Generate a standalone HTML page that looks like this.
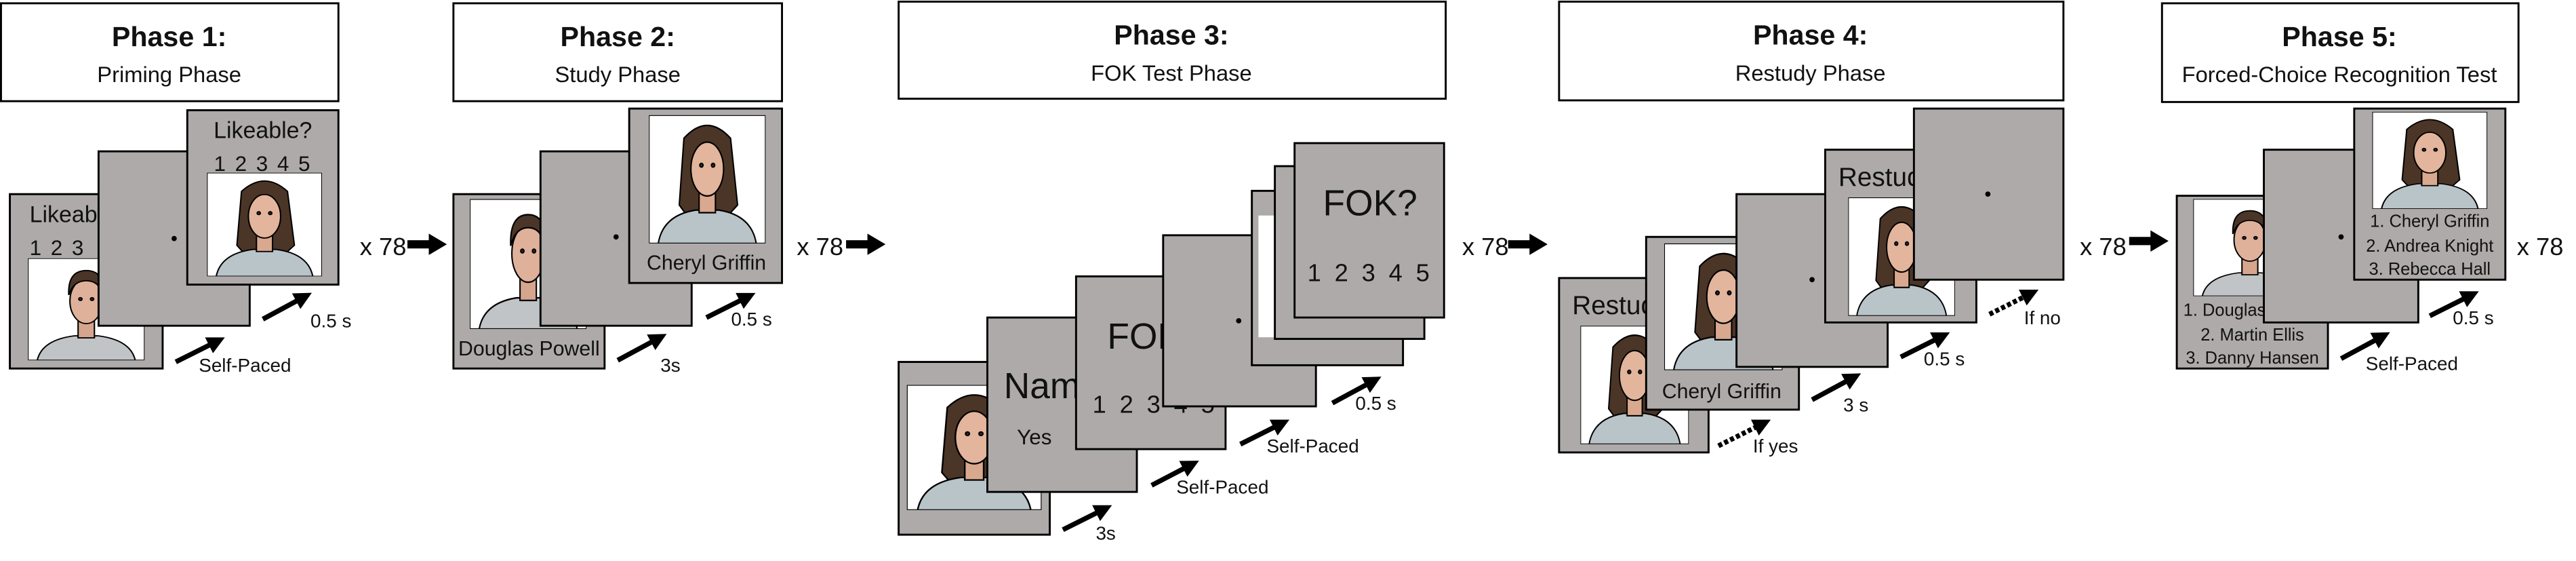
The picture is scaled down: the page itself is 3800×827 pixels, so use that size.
<!DOCTYPE html>
<html><head><meta charset="utf-8"><style>
html,body{margin:0;padding:0;background:#fff;}
svg{display:block;}
text{font-family:"Liberation Sans Narrow","Liberation Sans",sans-serif;fill:#111;}
</style></head><body>
<svg width="3800" height="827" viewBox="0 0 1568 341" preserveAspectRatio="none" xmlns="http://www.w3.org/2000/svg">
<defs>
<symbol id="fem" viewBox="0 0 100 100" preserveAspectRatio="none">
<rect width="100" height="100" fill="#fff"/>
<path d="M30 18 Q50 -2 70 18 L76 70 L66 80 L34 80 L26 70 Z" fill="#4b3527"/>
<path d="M8 100 Q12 78 40 74 L60 74 Q88 78 92 100 Z" fill="#b9c4c9"/>
<rect x="43" y="58" width="14" height="18" fill="#d9a98f"/>
<ellipse cx="50" cy="42" rx="14" ry="21" fill="#e2b59c"/>
<circle cx="45" cy="39" r="1.4" fill="#333"/><circle cx="55" cy="39" r="1.4" fill="#333"/>
</symbol>
<symbol id="mal" viewBox="0 0 100 100" preserveAspectRatio="none">
<rect width="100" height="100" fill="#fff"/>
<path d="M8 100 Q12 80 40 76 L60 76 Q88 80 92 100 Z" fill="#c0c4c6"/>
<rect x="43" y="58" width="14" height="20" fill="#d6a58e"/>
<ellipse cx="50" cy="42" rx="14" ry="22" fill="#dfb09a"/>
<path d="M35 36 Q34 12 50 12 Q66 12 65 36 Q61 22 50 22 Q39 22 35 36Z" fill="#4a3528"/>
<circle cx="45" cy="40" r="1.4" fill="#333"/><circle cx="55" cy="40" r="1.4" fill="#333"/>
</symbol>
<marker id="ah" viewBox="0 0 10 10" refX="6" refY="5" markerWidth="3.6" markerHeight="3.6" orient="auto"><path d="M0 0 L10 5 L0 10 Z" fill="#000"/></marker>
</defs>
<g fill="#fff" stroke="#000" stroke-width="1.2">
<rect x="0.6" y="2" width="205.4" height="59.5"/>
<rect x="276" y="2" width="200" height="59.5"/>
<rect x="547" y="1" width="333" height="59"/>
<rect x="949" y="1" width="307" height="60"/>
<rect x="1316" y="2" width="217" height="60"/>
</g>
<g font-size="17" font-weight="bold" text-anchor="middle">
<text x="103" y="28">Phase 1:</text><text x="376" y="28">Phase 2:</text><text x="713" y="27">Phase 3:</text><text x="1102" y="27">Phase 4:</text><text x="1424" y="28">Phase 5:</text>
</g>
<g font-size="13.5" text-anchor="middle">
<text x="103" y="50">Priming Phase</text><text x="376" y="50">Study Phase</text><text x="713" y="49">FOK Test Phase</text><text x="1102" y="49">Restudy Phase</text><text x="1424" y="50">Forced-Choice Recognition Test</text>
</g>
<g stroke="#000" stroke-width="1.2">
<!-- Phase 1 -->
<rect x="6" y="118" width="93" height="106" fill="#aeaaaa"/>
<text x="18" y="135" font-size="14" stroke="none">Likeable?</text>
<text x="18" y="155" font-size="13" stroke="none" letter-spacing="1">1 2 3</text>
<use href="#mal" x="17" y="157" width="71" height="62"/>
<rect x="60" y="92" width="92" height="106" fill="#aeaaaa"/>
<circle cx="106" cy="145" r="1.6" fill="#000" stroke="none"/>
<rect x="114" y="67" width="92" height="106" fill="#aeaaaa"/>
<text x="160" y="84" font-size="14" text-anchor="middle" stroke="none">Likeable?</text>
<text x="160" y="104" font-size="13" text-anchor="middle" stroke="none" letter-spacing="1">1 2 3 4 5</text>
<use href="#fem" x="126" y="105" width="70" height="63"/>
<!-- Phase 2 -->
<rect x="276" y="118" width="92" height="106" fill="#aeaaaa"/>
<use href="#mal" x="286" y="121" width="71" height="79"/>
<text x="322" y="216" font-size="12.5" text-anchor="middle" stroke="none">Douglas Powell</text>
<rect x="329" y="92" width="92" height="106" fill="#aeaaaa"/>
<circle cx="375" cy="144" r="1.6" fill="#000" stroke="none"/>
<rect x="383" y="66" width="93" height="106" fill="#aeaaaa"/>
<use href="#fem" x="395" y="70" width="71" height="78"/>
<text x="430" y="164" font-size="12.5" text-anchor="middle" stroke="none">Cheryl Griffin</text>
<!-- Phase 3 -->
<rect x="547" y="220" width="92" height="105" fill="#aeaaaa"/>
<use href="#fem" x="552" y="234" width="82" height="76"/>
<rect x="601" y="193" width="91" height="106" fill="#aeaaaa"/>
<text x="611" y="242" font-size="22" stroke="none">Name?</text>
<text x="619" y="270" font-size="13" stroke="none">Yes</text>
<rect x="655" y="168" width="91" height="105" fill="#aeaaaa"/>
<text x="674" y="212" font-size="22" stroke="none">FOK?</text>
<text x="665" y="251" font-size="15" stroke="none" letter-spacing="2">1 2 3 4 5</text>
<rect x="708" y="143" width="93" height="104" fill="#aeaaaa"/>
<circle cx="754" cy="195" r="1.6" fill="#000" stroke="none"/>
<rect x="762" y="116" width="92" height="106" fill="#aeaaaa"/>
<rect x="766" y="131" width="10" height="74" fill="#fff" stroke="none"/>
<rect x="776" y="101" width="91" height="105" fill="#aeaaaa"/>
<rect x="788" y="87" width="91" height="106" fill="#aeaaaa"/>
<text x="834" y="131" font-size="22" text-anchor="middle" stroke="none">FOK?</text>
<text x="834" y="171" font-size="15" text-anchor="middle" stroke="none" letter-spacing="2">1 2 3 4 5</text>
<!-- Phase 4 -->
<rect x="949" y="169" width="91" height="106" fill="#aeaaaa"/>
<text x="957" y="191" font-size="16" stroke="none">Restudy</text>
<use href="#fem" x="962" y="198" width="66" height="72"/>
<rect x="1002" y="144" width="93" height="105" fill="#aeaaaa"/>
<use href="#fem" x="1013" y="148" width="72" height="77"/>
<text x="1048" y="242" font-size="12.5" text-anchor="middle" stroke="none">Cheryl Griffin</text>
<rect x="1057" y="118" width="92" height="105" fill="#aeaaaa"/>
<circle cx="1103" cy="170" r="1.6" fill="#000" stroke="none"/>
<rect x="1111" y="91" width="92" height="105" fill="#aeaaaa"/>
<text x="1119" y="113" font-size="16" stroke="none">Restudy</text>
<use href="#fem" x="1125" y="120" width="65" height="72"/>
<rect x="1165" y="66" width="91" height="104" fill="#aeaaaa"/>
<circle cx="1210" cy="118" r="1.6" fill="#000" stroke="none"/>
<!-- Phase 5 -->
<rect x="1325" y="119" width="92" height="105" fill="#aeaaaa"/>
<use href="#mal" x="1335" y="121" width="69" height="59"/>
<g font-size="10.5" text-anchor="middle" stroke="none"><text x="1371" y="192">1. Douglas Powell</text><text x="1371" y="207">2. Martin Ellis</text><text x="1371" y="221">3. Danny Hansen</text></g>
<rect x="1378" y="91" width="94" height="105" fill="#aeaaaa"/>
<circle cx="1425" cy="144" r="1.6" fill="#000" stroke="none"/>
<rect x="1433" y="66" width="92" height="104" fill="#aeaaaa"/>
<use href="#fem" x="1444" y="68" width="70" height="59"/>
<g font-size="10.5" text-anchor="middle" stroke="none"><text x="1479" y="138">1. Cheryl Griffin</text><text x="1479" y="153">2. Andrea Knight</text><text x="1479" y="167">3. Rebecca Hall</text></g>
</g>
<!-- diagonal arrows -->
<g stroke="#000" stroke-width="3" marker-end="url(#ah)">
<line x1="107" y1="220" x2="133" y2="207"/><line x1="160" y1="194" x2="186" y2="180"/>
<line x1="376" y1="219" x2="402" y2="205"/><line x1="430" y1="193" x2="456" y2="180"/>
<line x1="647" y1="322" x2="673" y2="309"/><line x1="701" y1="295" x2="726" y2="282"/>
<line x1="755" y1="270" x2="781" y2="257"/><line x1="811" y1="245" x2="837" y2="231"/>
<line x1="1103" y1="243" x2="1129" y2="229"/><line x1="1157" y1="217" x2="1183" y2="204"/>
<line x1="1425" y1="218" x2="1451" y2="204"/><line x1="1479" y1="192" x2="1505" y2="179"/>
<line x1="1046" y1="271" x2="1074" y2="257" stroke-dasharray="2.5 1.5"/>
<line x1="1211" y1="191" x2="1237" y2="178" stroke-dasharray="2.5 1.5"/>
</g>
<g font-size="11.5">
<text x="121" y="226">Self-Paced</text><text x="189" y="199">0.5 s</text>
<text x="402" y="226">3s</text><text x="445" y="198">0.5 s</text>
<text x="667" y="328">3s</text><text x="716" y="300">Self-Paced</text><text x="771" y="275">Self-Paced</text><text x="825" y="249">0.5 s</text>
<text x="1067" y="275">If yes</text><text x="1122" y="250">3 s</text><text x="1171" y="222">0.5 s</text><text x="1232" y="197">If no</text>
<text x="1440" y="225">Self-Paced</text><text x="1493" y="197">0.5 s</text>
</g>
<g font-size="15">
<text x="219" y="155">x 78</text><text x="485" y="155">x 78</text><text x="890" y="155">x 78</text><text x="1266" y="155">x 78</text><text x="1532" y="155">x 78</text>
</g>
<g fill="#000">
<path d="M248 146 H261 V142 L272 148.5 L261 155 V151 H248 Z"/>
<path d="M515 146 H528 V142 L539 148.5 L528 155 V151 H515 Z"/>
<path d="M918 146 H931 V142 L942 148.5 L931 155 V151 H918 Z"/>
<path d="M1296 144 H1309 V140 L1320 146.5 L1309 153 V149 H1296 Z"/>
</g>
</svg>
</body></html>
